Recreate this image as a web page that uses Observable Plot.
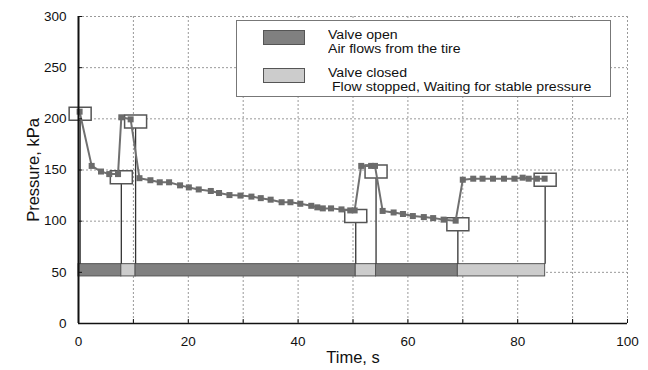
<!DOCTYPE html>
<html><head><meta charset="utf-8">
<script src="https://cdn.jsdelivr.net/npm/d3@7"></script>
<script src="https://cdn.jsdelivr.net/npm/@observablehq/plot@0.6"></script>
<style>
body{margin:0;background:#fff;font-family:"Liberation Sans",Arial,sans-serif;}
#wrap{position:relative;width:648px;height:370px;}
#legend{position:absolute;left:236px;top:20px;width:375px;height:77px;border:1px solid #777;background:#fff;box-sizing:border-box;font-size:12.5px;color:#111;}
.sw{position:absolute;left:26px;width:42px;height:15px;border:1px solid #555;box-sizing:border-box;}
.tx{position:absolute;left:91px;line-height:14px;height:14px;white-space:pre;transform:scaleX(1.13);transform-origin:left center;}
</style></head><body><div id="wrap"></div>
<script>
// measured pressure series
const time = [0.2, 2.4, 4.1, 5.6, 7.2, 7.8, 9.5, 11.1, 13.1, 14.8, 16.5, 18.5, 20.1, 21.9, 24.1, 25.6, 27.5, 29.5, 31.5, 33.2, 35.0, 37.0, 38.6, 40.4, 42.4, 43.5, 44.5, 46.0, 47.9, 49.5, 50.3, 51.5, 53.3, 54.0, 55.4, 57.4, 59.1, 60.9, 62.9, 64.6, 66.5, 68.7, 70.0, 71.9, 73.6, 75.5, 77.5, 79.4, 80.9, 82.0, 83.5, 84.9];
const pressure = [207, 154, 148.5, 146, 146, 201.5, 199.5, 142, 140, 138, 138, 135, 133, 131, 129.5, 127.5, 125.5, 125, 124, 122.5, 121, 118.5, 118.5, 117, 115, 113.5, 112.5, 112.5, 111.5, 110.5, 110.5, 154, 154, 154, 110, 108.5, 107, 105, 104, 103, 101.5, 100.5, 140.5, 141.5, 141.5, 141.5, 141.5, 141.5, 142.5, 141.5, 141.5, 141.5];
// valve switching annotations (boxes)
const boxTime = [0.3, 7.8, 10.4, 50.5, 54.2, 69.1, 85];
const boxPressure = [205, 143, 197.5, 105, 148.5, 97, 140.5];
// valve state segments
const segStart = [0, 7.8, 10.4, 50.5, 54.2, 69.1];
const segEnd = [7.8, 10.4, 50.5, 54.2, 69.1, 85];
const segState = ["open", "closed", "open", "closed", "open", "closed"];
const barLow = 46, barHigh = 58;
// ticks
const xTicks = [0, 10, 20, 30, 40, 50, 60, 70, 80, 90, 100];
const xLabels = [0, 20, 40, 60, 80, 100];
const yTicks = [0, 50, 100, 150, 200, 250, 300];
const legendTitles = ["Valve open", "Valve closed"];
const legendDescs = ["Air flows from the tire", " Flow stopped, Waiting for stable pressure"];

const series = time.map((t, i) => ({t, p: pressure[i]}));
const boxes = boxTime.map((t, i) => ({t, p: boxPressure[i]}));
const segments = segStart.map((s, i) => ({s, e: segEnd[i], state: segState[i]}));

const rectSymbol = {draw(ctx) { ctx.rect(-11, -6.5, 22, 13); }};

const chart = Plot.plot({
  width: 648, height: 370,
  marginLeft: 78, marginRight: 21, marginTop: 16, marginBottom: 47,
  style: {fontFamily: "'Liberation Sans', Arial, sans-serif", fontSize: "13px", color: "#111", background: "#fff"},
  x: {domain: [0, 100]},
  y: {domain: [0, 300]},
  color: {domain: ["open", "closed"], range: ["#808080", "#cccccc"]},
  marks: [
    Plot.gridX(xTicks.filter(d => d > 0), {stroke: "#999", strokeOpacity: 1, strokeDasharray: "2,2"}),
    Plot.gridY(yTicks.filter(d => d > 0), {stroke: "#999", strokeOpacity: 1, strokeDasharray: "2,2"}),
    Plot.rect(segments, {x1: "s", x2: "e", y1: barLow, y2: barHigh, fill: "state", stroke: "#555", strokeWidth: 1}),
    Plot.ruleX(boxes, {x: "t", y1: barHigh, y2: "p", stroke: "#333", strokeWidth: 1.3}),
    Plot.dot(boxes, {x: "t", y: "p", symbol: rectSymbol, fill: "white", stroke: "#555", strokeWidth: 1.5}),
    Plot.line(series, {x: "t", y: "p", stroke: "#707070", strokeWidth: 2}),
    Plot.dot(series, {x: "t", y: "p", symbol: "square", r: 3.4, fill: "#6b6b6b", stroke: null}),
    Plot.ruleX([0], {stroke: "#111", strokeWidth: 2}),
    Plot.ruleY([0], {stroke: "#111", strokeWidth: 1.5}),
    Plot.axisX(xTicks, {tickSize: -4, text: null, label: null}),
    Plot.axisX(xLabels, {tickSize: 0, tickPadding: 13, label: null, fontSize: 13.5}),
    Plot.axisY(yTicks, {tickSize: -4, text: null, label: null}),
    Plot.axisY(yTicks, {tickSize: 0, tickPadding: 12, label: null, fontSize: 13.5}),
    Plot.text(["Pressure, kPa"], {frameAnchor: "left", textAnchor: "middle", lineAnchor: "middle", rotate: -90, dx: -45, fontSize: 16.5}),
    Plot.text(["Time, s"], {frameAnchor: "bottom", textAnchor: "middle", lineAnchor: "middle", dy: 34, fontSize: 16.5})
  ]
});
const wrap = document.getElementById("wrap");
wrap.appendChild(chart);

const legend = document.createElement("div");
legend.id = "legend";
const swFill = ["#808080", "#cccccc"];
const swTop = [9, 47];
const titleTop = [7, 45];
const descTop = [21, 59];
legendTitles.forEach((title, i) => {
  const sw = document.createElement("div");
  sw.className = "sw"; sw.style.top = swTop[i] + "px"; sw.style.background = swFill[i];
  legend.appendChild(sw);
  const t1 = document.createElement("div");
  t1.className = "tx"; t1.style.top = titleTop[i] + "px"; t1.textContent = title;
  legend.appendChild(t1);
  const t2 = document.createElement("div");
  t2.className = "tx"; t2.style.top = descTop[i] + "px"; t2.textContent = legendDescs[i];
  legend.appendChild(t2);
});
wrap.appendChild(legend);
</script>
</body></html>
